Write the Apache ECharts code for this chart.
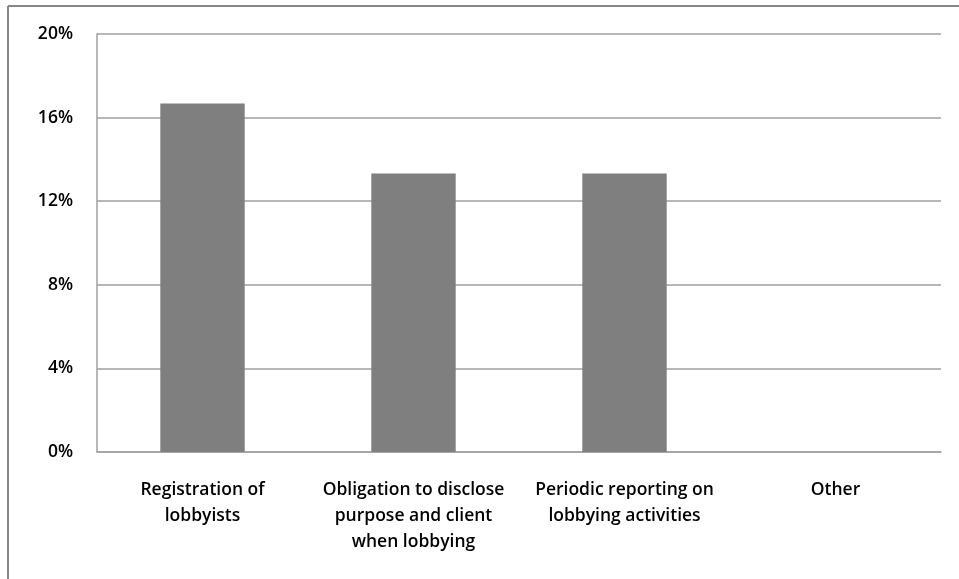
<!DOCTYPE html>
<html><head><meta charset="utf-8">
<script src="https://cdn.jsdelivr.net/npm/echarts@6/dist/echarts.min.js"></script>
<style>html,body{margin:0;padding:0;background:#fff}#c{width:959px;height:579px}</style>
</head><body><div id="c"></div>
<script>
const categories = ["Registration of\nlobbyists", "Obligation to disclose\npurpose and client\nwhen lobbying", "Periodic reporting on\nlobbying activities", "Other"];
const values = [16.67, 13.33, 13.33, 0];
const yTicks = { min: 0, max: 20, interval: 4 };

const chart = echarts.init(document.getElementById('c'), null, { renderer: 'canvas' });
chart.setOption({
  animation: false,
  backgroundColor: '#fff',
  grid: { left: 97, right: 18, top: 34, bottom: 127, containLabel: false },
  xAxis: {
    type: 'category',
    data: categories,
    axisLine: { show: true, lineStyle: { color: '#a0a0a0', width: 1.5 } },
    axisTick: { show: false },
    axisLabel: { color: '#000', fontFamily: 'Open Sans', fontWeight: 600, fontSize: 17.5, lineHeight: 26, margin: 25, interval: 0 }
  },
  yAxis: {
    type: 'value',
    min: yTicks.min, max: yTicks.max, interval: yTicks.interval,
    axisLine: { show: true, lineStyle: { color: '#a0a0a0', width: 1.5 } },
    axisTick: { show: false },
    splitLine: { show: true, lineStyle: { color: '#a0a0a0', width: 1.5 } },
    axisLabel: { color: '#000', fontFamily: 'Open Sans', fontWeight: 600, fontSize: 17.5, margin: 24, formatter: v => v + '%' }
  },
  series: [{
    type: 'bar',
    data: values,
    barWidth: '40%',
    itemStyle: { color: '#7f7f7f' }
  }],
  graphic: [
    { type: 'line', shape: { x1: 8, y1: 6, x2: 959, y2: 6 }, style: { stroke: '#878787', lineWidth: 2 } },
    { type: 'line', shape: { x1: 8, y1: 6, x2: 8, y2: 579 }, style: { stroke: '#878787', lineWidth: 2 } }
  ]
});
</script></body></html>
